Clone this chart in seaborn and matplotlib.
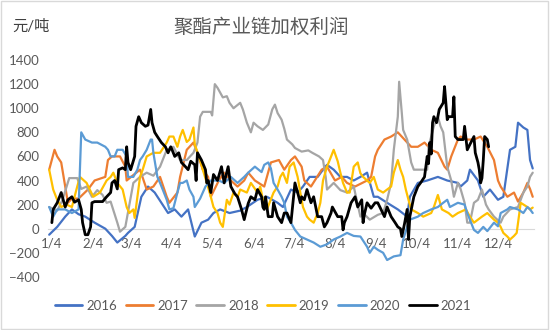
import matplotlib
matplotlib.use("Agg")
import matplotlib.pyplot as plt
import seaborn as sns
import pandas as pd
from matplotlib.lines import Line2D
from matplotlib.patches import Rectangle

# ---------------- data (day of year, profit yuan/ton) ----------------
years = ["2016", "2017", "2018", "2019", "2020", "2021"]
colors = ["#4472C4", "#ED7D31", "#A5A5A5", "#FFC000", "#5B9BD5", "#000000"]

d16 = [2,8,14,19,24,29,36,44,49,53,59,61,66,71,76,81,86,91,96,101,106,111,116,121,125,130,137,145,150,158,
       165,173,177,183,188,192,197,203,207,210,215,220,225,230,235,240,245,248,255,263,270,272,278,285,293,300,
       308,310,315,317,323,327,332,338,342,347,351,353,357,360,362,364]
v16 = [-50,15,100,160,120,100,50,0,-60,-115,-60,-35,15,265,350,300,215,130,160,100,160,-65,50,75,130,160,130,
       150,180,240,265,215,180,325,300,350,430,430,490,530,490,430,430,400,430,465,265,265,215,160,100,265,380,
       400,430,400,380,350,400,490,400,265,325,240,265,655,680,880,840,820,570,500]

d17 = [2,6,8,11,14,16,19,24,31,36,44,46,49,55,59,60,70,75,80,85,90,92,98,100,105,110,113,117,121,123,129,133,
       138,143,148,151,156,163,168,174,178,183,186,191,193,198,206,210,216,221,225,231,240,243,246,248,253,258,
       263,268,273,278,283,288,293,298,300,303,308,310,315,320,325,330,335,338,340,345,350,353,357,360,362,364]
v17 = [490,655,600,550,350,215,250,250,325,400,430,570,600,600,515,400,490,325,350,430,265,215,300,430,655,715,
       630,490,430,265,400,465,400,350,400,465,400,350,550,570,490,570,600,515,400,350,490,515,400,430,380,350,
       400,430,600,655,740,765,800,740,680,680,715,655,630,515,490,600,740,765,740,740,765,680,570,400,350,265,
       300,225,300,380,330,265]

d18 = [2,8,12,17,23,26,30,34,38,42,45,48,53,55,59,60,65,70,75,80,85,90,95,100,105,110,113,115,117,123,124,126,
       128,130,132,135,137,140,145,147,150,153,155,158,162,166,169,171,173,176,178,180,184,186,191,196,199,204,
       207,209,210,215,220,225,230,235,237,242,248,252,255,258,260,263,264,266,267,270,273,275,280,285,286,290,
       293,295,297,300,303,305,308,310,313,315,317,320,323,326,329,331,335,340,342,347,353,355,357,360,362,364]
v18 = [180,150,240,420,420,330,350,265,320,280,215,225,50,-25,15,75,380,430,465,440,515,655,680,570,570,630,715,
       930,970,970,940,1200,1170,1130,1090,1100,1045,1000,1045,990,880,800,880,850,820,865,990,1030,960,905,830,
       740,700,670,640,650,630,600,570,430,325,380,320,300,350,100,130,75,115,130,240,380,655,930,1220,960,820,
       740,550,490,490,490,680,850,930,850,800,515,400,265,380,330,215,50,50,215,240,325,200,160,100,50,100,160,
       180,240,300,350,430,465]

d19 = [2,5,8,11,15,19,23,25,30,35,40,45,48,50,53,57,60,62,65,66,70,72,75,80,85,90,92,95,98,100,102,105,107,110,
       111,115,117,120,123,125,128,130,132,135,137,140,143,145,150,153,158,160,162,165,170,173,175,177,180,182,
       185,188,190,192,195,197,200,203,205,207,210,212,215,218,220,222,225,227,230,233,235,237,242,245,248,252,
       258,260,263,265,267,269,271,273,278,282,288,290,293,296,301,304,308,314,317,320,323,326,330,335,338,340,
       342,345,347,350,352,354,355,360,362,364]
v19 = [490,325,240,180,200,180,350,430,380,265,300,400,430,465,380,325,180,130,160,90,430,490,600,630,630,715,765,
       765,680,765,820,720,740,840,700,570,490,380,265,180,130,50,15,240,200,300,260,325,300,380,300,350,240,160,
       300,350,430,465,380,515,550,430,300,180,100,75,50,130,215,400,515,570,655,560,465,380,300,300,515,550,460,
       430,380,430,325,300,350,465,570,490,430,325,240,160,130,100,130,180,280,160,130,100,130,160,100,50,75,100,
       130,75,50,15,-35,-65,-90,-60,-35,130,215,180,160,175]

d20 = [2,5,8,14,19,24,25,26,29,34,38,44,46,48,51,53,57,60,61,65,68,70,72,75,78,79,80,83,85,87,90,92,95,98,100,
       102,105,107,110,111,115,119,123,129,133,138,143,148,151,156,161,163,166,168,170,173,176,178,180,183,186,
       190,195,200,205,210,215,220,225,230,235,240,242,245,248,252,255,260,265,267,270,272,278,282,288,293,297,
       300,302,308,313,315,320,323,327,330,335,338,340,345,347,353,357,360,362,364]
v20 = [180,100,160,160,130,160,490,800,740,715,715,680,655,600,600,655,655,600,430,430,490,570,600,655,740,740,
       630,430,380,325,240,160,170,300,380,380,400,325,265,180,250,350,400,400,380,430,380,430,465,515,470,530,
       550,500,380,325,265,215,100,50,-10,-65,-90,-115,-150,-130,-90,-65,-35,-60,-65,-150,-200,-150,-175,-200,
       -260,-230,-220,-90,15,75,100,130,160,180,215,240,180,215,200,130,-10,-35,15,-20,50,20,130,160,180,160,130,
       180,160,130]

d21 = [4,5,8,11,14,16,19,21,24,26,27,29,31,33,34,36,42,45,48,49,51,53,54,57,59,60,61,63,66,67,69,71,74,76,78,
       79,81,83,86,89,91,93,94,96,99,101,104,106,108,111,112,113,116,119,120,121,123,125,128,131,133,136,138,141,
       143,146,148,151,153,156,158,161,162,163,164,166,169,170,173,176,178,180,183,186,188,190,191,193,195,198,
       200,203,206,208,210,213,214,216,218,221,222,223,225,228,231,233,236,237,238,240,243,246,248,250,253,255,
       258,261,263,265,266,268,270,271,272,275,278,280,283,285,286,287,288,289,290,292,293,294,297,298,299,300,
       301,304,305,306,308,310,312,313,315,317,320,321,323,324,325,326,327,328,330,331]
v21 = [50,160,215,300,180,240,265,220,240,160,50,-50,-50,15,215,225,225,265,300,380,400,330,490,505,490,680,550,
       490,600,850,930,880,850,860,990,880,800,765,715,680,630,680,655,600,630,550,515,490,560,530,400,630,570,
       490,380,400,300,450,400,515,380,515,350,290,265,160,75,210,265,240,325,265,180,160,265,100,100,215,100,
       50,130,130,50,380,300,215,265,240,325,215,265,100,100,15,50,130,180,140,100,100,-10,50,100,215,265,180,
       240,50,120,215,170,215,215,170,100,180,100,50,15,0,-65,40,160,-90,100,265,350,380,430,600,540,715,620,
       880,930,880,930,990,1045,1180,1045,905,930,930,1095,765,740,740,740,850,655,700,765,630,550,490,380,420,
       570,765,740,680]

tick_days = [4, 35, 63, 94, 124, 155, 185, 216, 247, 277, 308, 338]
tick_labels = ["1/4", "2/4", "3/4", "4/4", "5/4", "6/4", "7/4", "8/4", "9/4", "10/4", "11/4", "12/4"]
y_ticks = [-400, -200, 0, 200, 400, 600, 800, 1000, 1200, 1400]

title = "聚酯产业链加权利润"
unit = "元/吨"

# ---------------- build frame ----------------
frames = []
for yr, d, v in zip(years, [d16, d17, d18, d19, d20, d21], [v16, v17, v18, v19, v20, v21]):
    frames.append(pd.DataFrame({"day": d, "value": v, "year": yr}))
df = pd.concat(frames, ignore_index=True)

sns.set_theme(style="white")
plt.rcParams["font.family"] = ["Lato", "Noto Sans CJK SC", "DejaVu Sans"]

fig = plt.figure(figsize=(5.5, 3.3), dpi=100)
ax = fig.add_axes([0.087, 0.161, 0.884, 0.657])

pal = dict(zip(years, colors))
sns.lineplot(data=df, x="day", y="value", hue="year", hue_order=years, palette=pal,
             estimator=None, sort=True, linewidth=1.6, legend=False, ax=ax)
for ln, yr in zip(ax.lines, years):
    if yr == "2021":
        ln.set_linewidth(2.0)

ax.set_xlim(1, 365)
ax.set_ylim(-400, 1400)
ax.set_xticks(tick_days)
ax.set_xticklabels(tick_labels)
ax.set_yticks(y_ticks)
ax.set_xlabel("")
ax.set_ylabel("")
for s in ["left", "right", "top"]:
    ax.spines[s].set_visible(False)
ax.spines["bottom"].set_position(("data", 0))
ax.spines["bottom"].set_color("#D9D9D9")
ax.spines["bottom"].set_linewidth(0.8)
ax.spines["bottom"].set_zorder(0)
ax.tick_params(axis="both", length=0, labelsize=9.5, labelcolor="#595959")
ax.tick_params(axis="x", pad=6)
ax.tick_params(axis="y", pad=6)
ax.grid(False)
ax.set_facecolor("none")

fig.text(0.475, 1 - 27 / 330, title, ha="center", va="center", fontsize=14, color="#595959")
fig.text(12 / 550, 1 - 27 / 330, unit, ha="left", va="center", fontsize=11, color="#404040")

handles = [Line2D([0], [0], color=c, lw=2) for c in colors]
fig.legend(handles, years, loc="center", bbox_to_anchor=(0.478, 1 - 306 / 330), ncol=6,
           frameon=False, fontsize=9.5, handlelength=2.1, handletextpad=0.3, columnspacing=0.65,
           labelcolor="#595959")

fig.patches.append(Rectangle((0.002, 0.003), 0.995, 0.994, transform=fig.transFigure,
                             fill=False, edgecolor="#D9D9D9", linewidth=1))

fig.savefig("out.png", dpi=100)
